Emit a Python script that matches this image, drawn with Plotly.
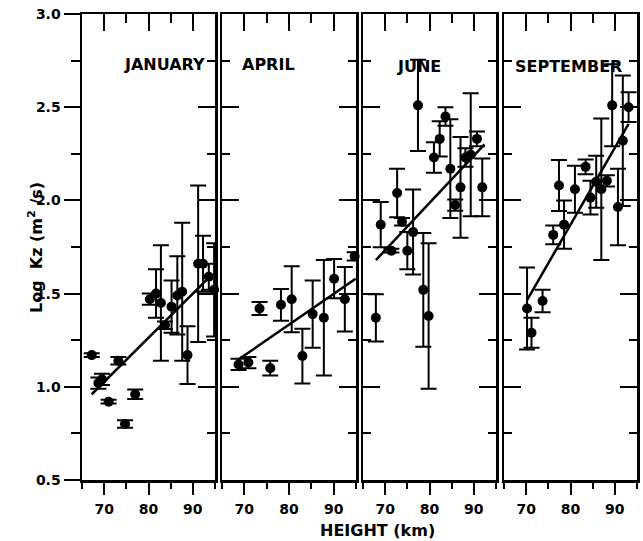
import plotly.graph_objects as go

# ---------------- data ----------------
months = ["JANUARY", "APRIL", "JUNE", "SEPTEMBER"]

jan_h = [67.2, 68.7, 69.5, 71.0, 73.2, 74.7, 77.0, 80.3, 81.7, 82.8, 83.7, 85.2, 86.5, 87.6, 88.8, 91.2, 92.3, 93.6, 94.8]
jan_k = [1.17, 1.02, 1.04, 0.92, 1.14, 0.80, 0.96, 1.47, 1.50, 1.45, 1.33, 1.43, 1.49, 1.51, 1.17, 1.66, 1.66, 1.59, 1.52]
jan_e = [0.01, 0.03, 0.03, 0.01, 0.02, 0.02, 0.025, 0.03, 0.13, 0.31, 0.02, 0.14, 0.21, 0.37, 0.155, 0.42, 0.15, 0.07, 0.25]

apr_h = [68.7, 70.9, 73.4, 75.8, 78.2, 80.6, 83.0, 85.3, 87.8, 90.1, 92.5, 94.7]
apr_k = [1.12, 1.13, 1.42, 1.10, 1.44, 1.47, 1.165, 1.39, 1.37, 1.58, 1.47, 1.70]
apr_e = [0.03, 0.03, 0.035, 0.04, 0.085, 0.177, 0.147, 0.18, 0.31, 0.105, 0.173, 0.022]

jun_h = [67.9, 69.0, 71.4, 72.7, 73.8, 75.0, 76.3, 77.4, 78.6, 79.8, 81.0, 82.3, 83.6, 84.7, 85.8, 87.0, 88.1, 89.3, 90.7, 91.9]
jun_k = [1.37, 1.87, 1.73, 2.04, 1.885, 1.73, 1.83, 2.51, 1.52, 1.38, 2.23, 2.33, 2.45, 2.17, 1.975, 2.07, 2.23, 2.245, 2.33, 2.07]
jun_e = [0.127, 0.122, 0.01, 0.13, 0.02, 0.10, 0.228, 0.245, 0.305, 0.39, 0.082, 0.095, 0.05, 0.265, 0.03, 0.27, 0.05, 0.33, 0.04, 0.155]

sep_h = [70.2, 71.2, 73.7, 76.1, 77.4, 78.55, 81.0, 83.4, 84.5, 85.8, 86.95, 88.2, 89.4, 90.7, 91.8, 93.1]
sep_k = [1.42, 1.29, 1.46, 1.815, 2.08, 1.87, 2.06, 2.18, 2.015, 2.10, 2.06, 2.105, 2.51, 1.965, 2.32, 2.50]
sep_e = [0.22, 0.08, 0.06, 0.05, 0.137, 0.13, 0.126, 0.04, 0.09, 0.14, 0.38, 0.03, 0.22, 0.205, 0.35, 0.08]

# regression line end points (height, log Kz)
fit_h0 = [67.2, 68.9, 67.9, 70.2]
fit_h1 = [93.4, 94.9, 92.4, 93.1]
fit_k0 = [0.96, 1.15, 1.68, 1.465]
fit_k1 = [1.58, 1.58, 2.30, 2.41]

x_ticks = [70, 80, 90]
y_ticks = [0.5, 1.0, 1.5, 2.0, 2.5, 3.0]

series = [(jan_h, jan_k, jan_e), (apr_h, apr_k, apr_e), (jun_h, jun_k, jun_e), (sep_h, sep_k, sep_e)]

# ---------------- layout geometry ----------------
W, H = 643, 541
panel_px = [(82, 215), (222, 356), (363, 496), (504, 637)]
y_dom = [1 - 480 / H, 1 - 14 / H]
FONT = "DejaVu Sans"
LW = 2.5

fig = go.Figure()

for i, (hh, kk, ee) in enumerate(series):
    n = i + 1
    xa = "x" if n == 1 else f"x{n}"
    ya = "y" if n == 1 else f"y{n}"
    fig.add_trace(go.Scatter(
        x=hh, y=kk, mode="markers", xaxis=xa, yaxis=ya,
        marker=dict(color="black", size=10),
        error_y=dict(type="data", array=ee, visible=True, color="black", thickness=2, width=8),
        showlegend=False, hoverinfo="skip", cliponaxis=False,
    ))
    fig.add_trace(go.Scatter(
        x=[fit_h0[i], fit_h1[i]], y=[fit_k0[i], fit_k1[i]], mode="lines",
        xaxis=xa, yaxis=ya, line=dict(color="black", width=2.5),
        showlegend=False, hoverinfo="skip",
    ))
    # empty trace to register the top overlay axis
    fig.add_trace(go.Scatter(x=[], y=[], xaxis=f"x{n+4}", yaxis=ya, showlegend=False, hoverinfo="skip"))

# empty trace for the right-hand overlay y axis of January
fig.add_trace(go.Scatter(x=[], y=[], xaxis="x", yaxis="y5", showlegend=False, hoverinfo="skip"))

layout = dict(
    template="none",
    width=W, height=H, margin=dict(l=0, r=0, t=0, b=0, pad=0),
    paper_bgcolor="white", plot_bgcolor="white", showlegend=False,
)

for i, (a, b) in enumerate(panel_px):
    n = i + 1
    key = "xaxis" if n == 1 else f"xaxis{n}"
    ya = "y" if n == 1 else f"y{n}"
    layout[key] = dict(
        domain=[a / W, b / W], range=[65, 95], anchor=ya, automargin=False,
        tickvals=x_ticks, ticks="outside", ticklen=12, tickwidth=2, tickcolor="black",
        minor=dict(dtick=5, tick0=65, ticks="outside", ticklen=6, tickwidth=2, tickcolor="black"),
        showline=True, linewidth=LW, linecolor="black", mirror=True,
        showgrid=False, zeroline=False,
        tickfont=dict(family=FONT, size=14, color="black", weight="bold"),
        ticklabelstandoff=3,
    )
    layout[f"xaxis{n+4}"] = dict(
        overlaying="x" if n == 1 else f"x{n}", side="top", range=[65, 95], anchor=ya,
        automargin=False,
        tickvals=x_ticks, ticks="inside", ticklen=17, tickwidth=2, tickcolor="black",
        minor=dict(dtick=5, tick0=65, ticks="inside", ticklen=9, tickwidth=2, tickcolor="black"),
        showticklabels=False, showline=False, showgrid=False, zeroline=False,
    )
    ykey = "yaxis" if n == 1 else f"yaxis{n}"
    xa = "x" if n == 1 else f"x{n}"
    if n == 1:
        layout[ykey] = dict(
            domain=y_dom, range=[0.5, 3.0], anchor=xa, automargin=False,
            tickvals=y_ticks, tickformat=".1f", ticks="outside", ticklen=16, tickwidth=2, tickcolor="black",
            minor=dict(dtick=0.25, tick0=0.5, ticks="outside", ticklen=9, tickwidth=2, tickcolor="black"),
            showline=True, linewidth=LW, linecolor="black", mirror=True,
            showgrid=False, zeroline=False,
            tickfont=dict(family=FONT, size=14, color="black", weight="bold"),
        )
    else:
        layout[ykey] = dict(
            domain=y_dom, range=[0.5, 3.0], anchor=xa, automargin=False,
            tickvals=y_ticks, ticks="inside", ticklen=17, tickwidth=2, tickcolor="black",
            minor=dict(dtick=0.25, tick0=0.5, ticks="inside", ticklen=8, tickwidth=2, tickcolor="black"),
            showline=True, linewidth=LW, linecolor="black", mirror="ticks",
            showticklabels=False, showgrid=False, zeroline=False,
        )

layout["yaxis5"] = dict(
    overlaying="y", side="right", range=[0.5, 3.0], anchor="x", automargin=False,
    tickvals=y_ticks, ticks="inside", ticklen=17, tickwidth=2, tickcolor="black",
    minor=dict(dtick=0.25, tick0=0.5, ticks="inside", ticklen=8, tickwidth=2, tickcolor="black"),
    showticklabels=False, showline=False, showgrid=False, zeroline=False,
)

label_pos = [(122, 65), (240, 65), (395, 66), (513, 66)]
annotations = []
for m, (px, py) in zip(months, label_pos):
    annotations.append(dict(
        text=m, x=px / W, y=1 - py / H, xref="paper", yref="paper",
        xanchor="left", yanchor="middle", showarrow=False,
        font=dict(family=FONT, size=16, color="black", weight="bold"),
    ))
annotations.append(dict(
    text="HEIGHT (km)", x=377 / W, y=1 - 530 / H, xref="paper", yref="paper",
    xanchor="center", yanchor="middle", showarrow=False,
    font=dict(family=FONT, size=16, color="black", weight="bold"),
))
annotations.append(dict(
    text="Log  Kz (m<sup>2</sup> /s)", x=35 / W, y=1 - 248 / H, xref="paper", yref="paper",
    xanchor="center", yanchor="middle", showarrow=False, textangle=-90,
    font=dict(family=FONT, size=16, color="black", weight="bold"),
))
layout["annotations"] = annotations

fig.update_layout(**layout)
fig.write_html(
    "out.html",
    config={"displayModeBar": False, "staticPlot": True},
    post_script="document.body.style.margin='0px';document.body.style.overflow='hidden';",
)
